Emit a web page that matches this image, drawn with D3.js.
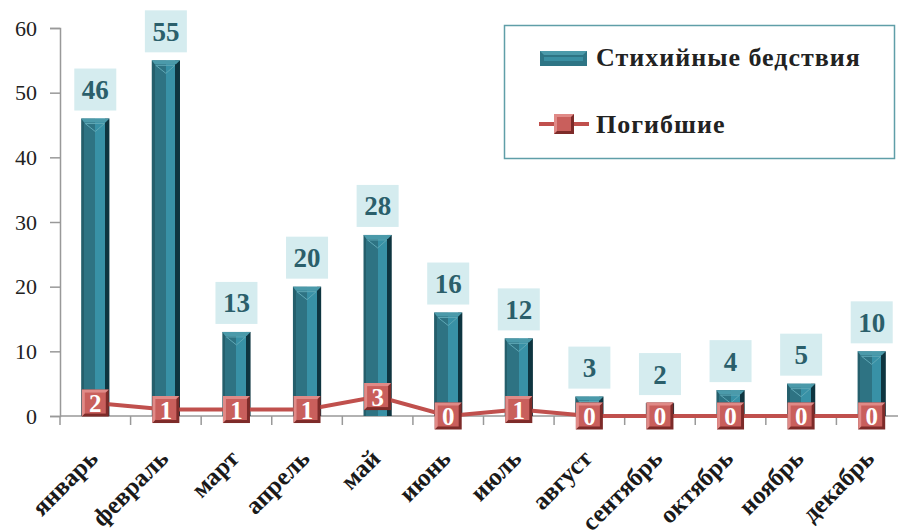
<!DOCTYPE html>
<html>
<head>
<meta charset="utf-8">
<script src="https://cdn.jsdelivr.net/npm/d3@7"></script>
<style>
  body { margin: 0; background: #fff; }
</style>
</head>
<body>
<div id="chart"></div>
<script>
var width = 898,
  height = 531,
  serif = "'Liberation Serif', 'Times New Roman', serif";

// data
var months = ["январь", "февраль", "март", "апрель", "май", "июнь", "июль", "август", "сентябрь", "октябрь", "ноябрь", "декабрь"];
var disasters = [46, 55, 13, 20, 28, 16, 12, 3, 2, 4, 5, 10];
var deaths = [2, 1, 1, 1, 3, 0, 1, 0, 0, 0, 0, 0];
var yTicks = [0, 10, 20, 30, 40, 50, 60];
var seriesNames = ["Стихийные бедствия", "Погибшие"];

var x = d3.scaleBand()
  .domain(months)
  .range([60, 907])
  .paddingInner(0.6)
  .paddingOuter(0.3);

var y = d3.scaleLinear()
  .domain([0, 60])
  .range([416, 28]);

var svg = d3.select("#chart").append("svg")
  .attr("width", width)
  .attr("height", height);

var defs = svg.append("defs");

var barGrad = defs.append("linearGradient")
  .attr("id", "barGrad")
  .attr("x1", "0").attr("x2", "1").attr("y1", "0").attr("y2", "0");
[[0, "#255f6c"], [0.1, "#255f6c"], [0.1, "#2e7383"], [0.5, "#2e7383"], [0.5, "#3891a6"], [0.84, "#3891a6"], [0.84, "#0e3540"], [1, "#0e3540"]]
  .forEach(function (s) {
    barGrad.append("stop").attr("offset", s[0]).attr("stop-color", s[1]);
  });

// axes
var yAxis = svg.append("g")
  .attr("transform", "translate(60,0)")
  .call(d3.axisLeft(y).tickValues(yTicks).tickSize(10).tickPadding(13));
yAxis.select(".domain").attr("stroke", "#999").attr("stroke-width", 1.5);
yAxis.selectAll(".tick line").attr("stroke", "#999").attr("stroke-width", 1.5);
yAxis.selectAll(".tick text")
  .attr("font-size", 22)
  .attr("fill", "#222");

var xAxis = svg.append("g")
  .attr("transform", "translate(0,416)");
xAxis.append("line")
  .attr("x1", 60).attr("x2", 907)
  .attr("stroke", "#999").attr("stroke-width", 1.5);
xAxis.selectAll("line.tk")
  .data(months)
  .enter()
  .append("line")
  .attr("class", "tk")
  .attr("x1", function (d) { return x(d) - x.step() * x.paddingInner() / 2; })
  .attr("x2", function (d) { return x(d) - x.step() * x.paddingInner() / 2; })
  .attr("y1", 0).attr("y2", 9)
  .attr("stroke", "#999").attr("stroke-width", 1.5);

svg.append("g")
  .selectAll("text")
  .data(months)
  .enter()
  .append("text")
  .attr("transform", function (d) {
    return "translate(" + (x(d) + x.bandwidth() / 2 + 4) + ",460) rotate(-45)";
  })
  .attr("text-anchor", "end")
  .attr("font-size", 25)
  .attr("font-weight", "bold")
  .attr("fill", "#1a1a1a")
  .text(function (d) { return d; });

// bars
var bars = svg.append("g")
  .selectAll("g")
  .data(disasters)
  .enter()
  .append("g")
  .attr("transform", function (d, i) { return "translate(" + x(months[i]) + ",0)"; });

var bw = x.bandwidth();

bars.append("rect")
  .attr("x", 0)
  .attr("y", function (d) { return y(d); })
  .attr("width", bw)
  .attr("height", function (d) { return y(0) - y(d); })
  .attr("fill", "url(#barGrad)");

// top bevel
bars.append("path")
  .attr("d", function (d) {
    var t = y(d);
    return "M0," + t + " L" + bw + "," + t + " L" + (bw - 4) + "," + (t + 4) + " L3," + (t + 4) + " Z";
  })
  .attr("fill", "#4b9aaa");

bars.append("path")
  .attr("d", function (d) {
    var t = y(d) + 5, h = Math.min(8, y(0) - y(d) - 6);
    if (h < 2) return "";
    return "M4," + t + " L" + (bw - 5) + "," + t + " L" + (bw / 2) + "," + (t + h) + " Z";
  })
  .attr("fill", "none")
  .attr("stroke", "#5fa8b6")
  .attr("stroke-width", 1);

// value labels
var labels = svg.append("g")
  .selectAll("g")
  .data(disasters)
  .enter()
  .append("g")
  .attr("transform", function (d, i) {
    return "translate(" + (x(months[i]) + bw / 2) + "," + (y(d) - 29) + ")";
  });

labels.append("rect")
  .attr("x", -21).attr("y", -21)
  .attr("width", 42).attr("height", 42)
  .attr("fill", "#d5ecef");

labels.append("text")
  .attr("text-anchor", "middle")
  .attr("dy", "0.35em")
  .attr("font-size", 27)
  .attr("font-weight", "bold")
  .attr("fill", "#2b5f6b")
  .text(function (d) { return d; });

// line
var line = d3.line()
  .x(function (d, i) { return x(months[i]) + bw / 2; })
  .y(function (d) { return y(d); });

svg.append("path")
  .datum(deaths)
  .attr("d", line)
  .attr("fill", "none")
  .attr("stroke", "#c0504d")
  .attr("stroke-width", 4);

function drawMarker(g, s) {
  var h = s / 2, b = 3;
  g.append("rect")
    .attr("x", -h).attr("y", -h).attr("width", s).attr("height", s)
    .attr("fill", "#7d2b29");
  g.append("path")
    .attr("d", "M" + (-h) + "," + (-h) + " L" + h + "," + (-h) + " L" + (h - b) + "," + (-h + b) + " L" + (-h + b) + "," + (h - b) + " L" + (-h) + "," + h + " Z")
    .attr("fill", "#e08a87");
  g.append("rect")
    .attr("x", -h + b).attr("y", -h + b).attr("width", s - 2 * b).attr("height", s - 2 * b)
    .attr("fill", "#c95f5c");
}

var markers = svg.append("g")
  .selectAll("g")
  .data(deaths)
  .enter()
  .append("g")
  .attr("transform", function (d, i) {
    return "translate(" + (x(months[i]) + bw / 2) + "," + y(d) + ")";
  });

markers.each(function () { drawMarker(d3.select(this), 27); });

markers.append("text")
  .attr("text-anchor", "middle")
  .attr("dy", "0.36em")
  .attr("font-size", 25)
  .attr("font-weight", "bold")
  .attr("fill", "#fff")
  .text(function (d) { return d; });

// legend
var legend = svg.append("g");
legend.append("rect")
  .attr("x", 504.5).attr("y", 25.5)
  .attr("width", 390).attr("height", 133)
  .attr("fill", "#fff")
  .attr("stroke", "#5f9ea8")
  .attr("stroke-width", 1.5);

legend.append("rect")
  .attr("x", 540).attr("y", 51)
  .attr("width", 47).attr("height", 15)
  .attr("fill", "#2e7585");
legend.append("path")
  .attr("d", "M540,51 L587,51 L583,55 L544,55 Z")
  .attr("fill", "#4b9aaa");
legend.append("rect")
  .attr("x", 544).attr("y", 57)
  .attr("width", 39).attr("height", 4)
  .attr("fill", "#3a8fa2");

legend.append("line")
  .attr("x1", 539).attr("x2", 589)
  .attr("y1", 124).attr("y2", 124)
  .attr("stroke", "#c0504d")
  .attr("stroke-width", 4);
drawMarker(legend.append("g").attr("transform", "translate(564,124)"), 20);

legend.selectAll("text")
  .data(seriesNames)
  .enter()
  .append("text")
  .attr("x", 596)
  .attr("y", function (d, i) { return i === 0 ? 66 : 133; })
  .attr("font-size", 26)
  .attr("font-weight", "bold")
  .attr("letter-spacing", 1)
  .attr("fill", "#222")
  .text(function (d) { return d; });

// serif everywhere
svg.selectAll("text").style("font-family", serif);
</script>
</body>
</html>
